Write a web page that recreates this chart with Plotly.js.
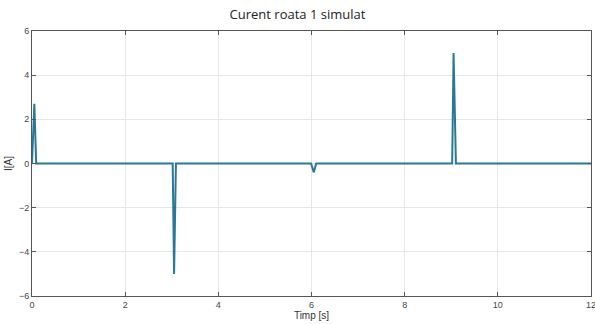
<!DOCTYPE html>
<html><head><meta charset="utf-8">
<script src="https://cdn.plot.ly/plotly-3.0.1.min.js"></script>
<style>html,body{margin:0;padding:0;background:#fff}#c{width:595px;height:324px}</style>
</head><body><div id="c"></div>
<script>
const timeS = [0, 0.05, 0.09, 3.02, 3.05, 3.09, 5.99, 6.05, 6.1, 9.02, 9.05, 9.1, 12];
const currentA = [0, 2.7, 0, 0, -5.0, 0, 0, -0.4, 0, 0, 5.0, 0, 0];
const xTicks = [0, 2, 4, 6, 8, 10, 12];
const yTicks = [-6, -4, -2, 0, 2, 4, 6];

const axisCommon = {
  showline: true, linecolor: '#555', linewidth: 1, mirror: 'ticks',
  ticks: 'inside', ticklen: 4, tickcolor: '#555',
  showgrid: true, gridcolor: '#e6e6e6', gridwidth: 1, zeroline: false,
  ticklabeloverflow: 'allow',
  tickfont: {family: 'Liberation Sans, Arial, sans-serif', size: 9, color: '#444'}
};
Plotly.newPlot('c', [{
  x: timeS, y: currentA, type: 'scatter', mode: 'lines',
  line: {color: '#2a7897', width: 2}
}], {
  width: 595, height: 324,
  margin: {l: 32, r: 4, t: 31, b: 28},
  paper_bgcolor: '#fff', plot_bgcolor: '#fff',
  showlegend: false,
  title: {text: 'Curent roata 1 simulat', x: 0.5, xanchor: 'center', y: 0.97, yanchor: 'top',
    font: {family: 'Open Sans, Liberation Sans, sans-serif', size: 13, color: '#222'}},
  xaxis: Object.assign({}, axisCommon, {range: [0, 12], tickvals: xTicks,
    title: {text: 'Timp [s]', standoff: 2, font: {family: 'Liberation Sans, Arial, sans-serif', size: 10, color: '#333'}}}),
  yaxis: Object.assign({}, axisCommon, {range: [-6, 6], tickvals: yTicks,
    title: {text: 'I[A]', standoff: 4, font: {family: 'Liberation Sans, Arial, sans-serif', size: 10, color: '#333'}}})
}, {staticPlot: true});
</script></body></html>
